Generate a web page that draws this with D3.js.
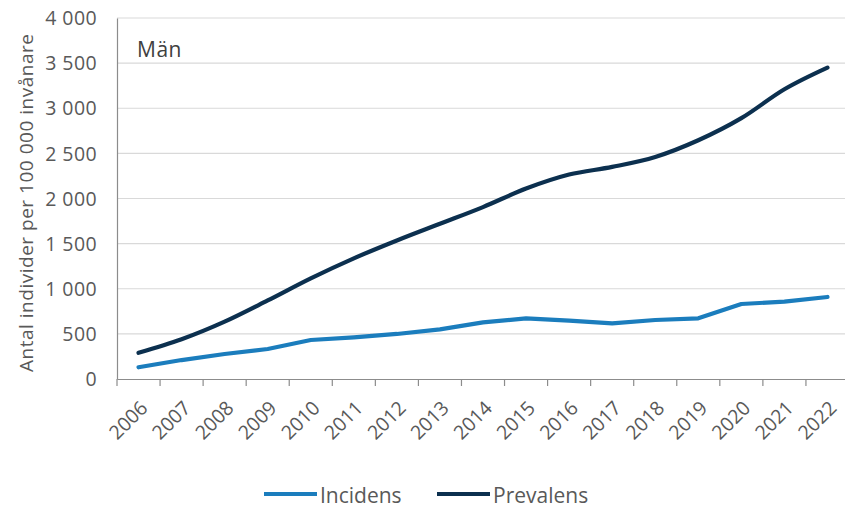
<!DOCTYPE html>
<html><head><meta charset="utf-8">
<script src="https://cdn.jsdelivr.net/npm/d3@7"></script>
<style>body{margin:0;background:#fff;}svg{display:block;font-family:"Open Sans",sans-serif;}</style>
</head><body>
<svg id="c" width="845" height="508"></svg>
<script>
const years = ["2006","2007","2008","2009","2010","2011","2012","2013","2014","2015","2016","2017","2018","2019","2020","2021","2022"];
const incidens = [130,210,277,332,432,462,499,550,628,672,646,617,654,672,831,857,909];
const prevalens = [290,440,635,870,1115,1337,1535,1720,1905,2110,2265,2350,2460,2645,2890,3210,3450];
const yTicks = [0,500,1000,1500,2000,2500,3000,3500,4000];
const seriesNames = ["Incidens","Prevalens"];
const colors = ["#1b7dbd","#0c304f"];

const svg = d3.select("#c");
const x = d3.scaleBand().domain(years).range([117,849]);
const y = d3.scaleLinear().domain([0,4000]).range([379,18]);
const fmt = v => d3.format(",")(v).replace(/,/g," ");
const txt = "#595959";

// grid
svg.append("g").selectAll("line").data(yTicks.filter(d=>d>0)).join("line")
  .attr("x1",117).attr("x2",845).attr("y1",d=>y(d)).attr("y2",d=>y(d))
  .attr("stroke","#d9d9d9").attr("stroke-width",1.2);

// y axis
const ya = svg.append("g").attr("transform","translate(117,0)")
  .call(d3.axisLeft(y).tickValues(yTicks).tickFormat(fmt).tickSize(0).tickPadding(20));
ya.select(".domain").attr("stroke","#8c8c8c").attr("stroke-width",1.2);
ya.selectAll("text").attr("font-size",19.5).attr("fill",txt).attr("font-family","Open Sans")
  .attr("letter-spacing",0.4).attr("dy","0.34em");

// x axis
const xa = svg.append("g").attr("transform","translate(0,379)")
  .call(d3.axisBottom(x).tickSize(0).tickSizeOuter(0));
xa.select(".domain").attr("stroke","#8c8c8c").attr("stroke-width",1.2);
xa.selectAll("text").attr("font-size",19.5).attr("fill",txt).attr("font-family","Open Sans")
  .attr("text-anchor","end").attr("dy",0).attr("y",0)
  .attr("transform","translate(5,25) rotate(-45)").attr("dominant-baseline","central");
// tick marks at band boundaries
svg.append("g").selectAll("line").data(years).join("line")
  .attr("x1",d=>x(d)).attr("x2",d=>x(d)).attr("y1",379).attr("y2",386)
  .attr("stroke","#8c8c8c").attr("stroke-width",1.2);

// lines
const cx = (d,i)=>x(years[i])+x.bandwidth()/2;
const lineI = d3.line().x(cx).y(d=>y(d));
const lineP = d3.line().x(cx).y(d=>y(d)).curve(d3.curveMonotoneX);
[[incidens,lineI],[prevalens,lineP]].forEach(([s,l],k)=>{
  svg.append("path").datum(s).attr("d",l).attr("fill","none")
    .attr("stroke",colors[k]).attr("stroke-width",4.2).attr("stroke-linecap","round").attr("stroke-linejoin","round");
});

// title
svg.append("text").attr("x",137).attr("y",57).attr("font-size",21).attr("letter-spacing",0.5).attr("fill","#404040").text("Män");

// y title
svg.append("text").attr("transform","translate(33,203) rotate(-90)").attr("text-anchor","middle")
  .attr("font-size",19).attr("fill",txt).attr("textLength",338).attr("lengthAdjust","spacing")
  .text("Antal individer per 100 000 invånare");

// legend
const lx = [264,437];
seriesNames.forEach((n,k)=>{
  svg.append("line").attr("x1",lx[k]).attr("x2",lx[k]+53).attr("y1",494).attr("y2",494)
    .attr("stroke",colors[k]).attr("stroke-width",4.2);
  svg.append("text").attr("x",lx[k]+56).attr("y",503).attr("font-size",21).attr("fill",txt).text(n);
});
</script>
</body></html>
